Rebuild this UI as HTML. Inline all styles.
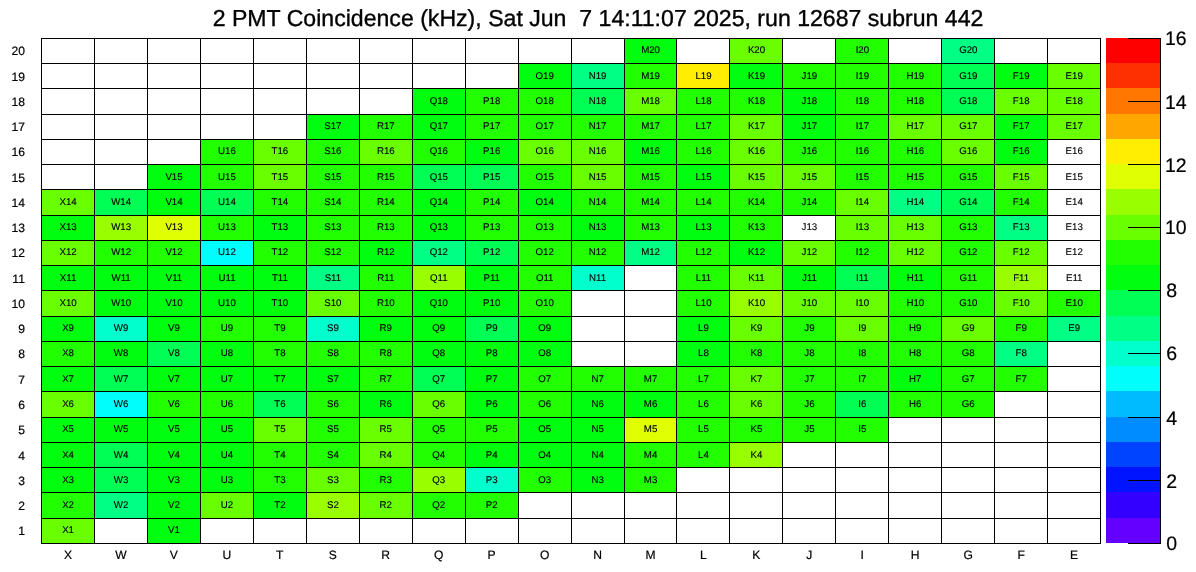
<!DOCTYPE html>
<html><head><meta charset="utf-8"><title>2 PMT Coincidence</title>
<style>html,body{margin:0;padding:0;background:#fff;overflow:hidden}svg{display:block;will-change:transform}text{font-family:"Liberation Sans",Arial,Helvetica,sans-serif;fill:#000;text-rendering:geometricPrecision}.t{font-size:23.1px;text-anchor:middle;white-space:pre;stroke:#000;stroke-width:0.35px}.c{font-size:9.7px;text-anchor:middle;stroke:#000;stroke-width:0.13px}.a{font-size:12.1px;text-anchor:middle;stroke:#000;stroke-width:0.2px}.z{font-size:19.5px;text-anchor:start;stroke:#000;stroke-width:0.2px}</style></head><body>
<svg width="1196" height="572" viewBox="0 0 1196 572">
<rect x="0" y="0" width="1196" height="572" fill="#fff"/>
<text class="t" xml:space="preserve" x="598" y="26">2 PMT Coincidence (kHz), Sat Jun  7 14:11:07 2025, run 12687 subrun 442</text>
<g shape-rendering="crispEdges">
<rect x="624" y="38" width="52" height="25" fill="#00ff0e"/>
<rect x="729" y="38" width="53" height="25" fill="#69ff00"/>
<rect x="835" y="38" width="53" height="25" fill="#22ff00"/>
<rect x="941" y="38" width="53" height="25" fill="#00ff85"/>
<rect x="518" y="63" width="53" height="25" fill="#00ff0e"/>
<rect x="571" y="63" width="53" height="25" fill="#00ff85"/>
<rect x="624" y="63" width="52" height="25" fill="#22ff00"/>
<rect x="676" y="63" width="53" height="25" fill="#ffee00"/>
<rect x="729" y="63" width="53" height="25" fill="#00ff0e"/>
<rect x="782" y="63" width="53" height="25" fill="#22ff00"/>
<rect x="835" y="63" width="53" height="25" fill="#22ff00"/>
<rect x="888" y="63" width="53" height="25" fill="#22ff00"/>
<rect x="941" y="63" width="53" height="25" fill="#00ff55"/>
<rect x="994" y="63" width="53" height="25" fill="#00ff0e"/>
<rect x="1047" y="63" width="53" height="25" fill="#69ff00"/>
<rect x="412" y="88" width="53" height="26" fill="#00ff0e"/>
<rect x="465" y="88" width="53" height="26" fill="#22ff00"/>
<rect x="518" y="88" width="53" height="26" fill="#22ff00"/>
<rect x="571" y="88" width="53" height="26" fill="#00ff55"/>
<rect x="624" y="88" width="52" height="26" fill="#69ff00"/>
<rect x="676" y="88" width="53" height="26" fill="#22ff00"/>
<rect x="729" y="88" width="53" height="26" fill="#22ff00"/>
<rect x="782" y="88" width="53" height="26" fill="#00ff0e"/>
<rect x="835" y="88" width="53" height="26" fill="#22ff00"/>
<rect x="888" y="88" width="53" height="26" fill="#22ff00"/>
<rect x="941" y="88" width="53" height="26" fill="#00ff55"/>
<rect x="994" y="88" width="53" height="26" fill="#69ff00"/>
<rect x="1047" y="88" width="53" height="26" fill="#69ff00"/>
<rect x="306" y="114" width="53" height="25" fill="#00ff0e"/>
<rect x="359" y="114" width="53" height="25" fill="#22ff00"/>
<rect x="412" y="114" width="53" height="25" fill="#00ff0e"/>
<rect x="465" y="114" width="53" height="25" fill="#22ff00"/>
<rect x="518" y="114" width="53" height="25" fill="#22ff00"/>
<rect x="571" y="114" width="53" height="25" fill="#22ff00"/>
<rect x="624" y="114" width="52" height="25" fill="#22ff00"/>
<rect x="676" y="114" width="53" height="25" fill="#22ff00"/>
<rect x="729" y="114" width="53" height="25" fill="#69ff00"/>
<rect x="782" y="114" width="53" height="25" fill="#00ff0e"/>
<rect x="835" y="114" width="53" height="25" fill="#22ff00"/>
<rect x="888" y="114" width="53" height="25" fill="#69ff00"/>
<rect x="941" y="114" width="53" height="25" fill="#69ff00"/>
<rect x="994" y="114" width="53" height="25" fill="#00ff0e"/>
<rect x="1047" y="114" width="53" height="25" fill="#69ff00"/>
<rect x="200" y="139" width="53" height="25" fill="#22ff00"/>
<rect x="253" y="139" width="53" height="25" fill="#69ff00"/>
<rect x="306" y="139" width="53" height="25" fill="#22ff00"/>
<rect x="359" y="139" width="53" height="25" fill="#69ff00"/>
<rect x="412" y="139" width="53" height="25" fill="#22ff00"/>
<rect x="465" y="139" width="53" height="25" fill="#00ff0e"/>
<rect x="518" y="139" width="53" height="25" fill="#69ff00"/>
<rect x="571" y="139" width="53" height="25" fill="#69ff00"/>
<rect x="624" y="139" width="52" height="25" fill="#00ff0e"/>
<rect x="676" y="139" width="53" height="25" fill="#22ff00"/>
<rect x="729" y="139" width="53" height="25" fill="#69ff00"/>
<rect x="782" y="139" width="53" height="25" fill="#22ff00"/>
<rect x="835" y="139" width="53" height="25" fill="#22ff00"/>
<rect x="888" y="139" width="53" height="25" fill="#22ff00"/>
<rect x="941" y="139" width="53" height="25" fill="#69ff00"/>
<rect x="994" y="139" width="53" height="25" fill="#00ff0e"/>
<rect x="147" y="164" width="53" height="25" fill="#00ff0e"/>
<rect x="200" y="164" width="53" height="25" fill="#22ff00"/>
<rect x="253" y="164" width="53" height="25" fill="#69ff00"/>
<rect x="306" y="164" width="53" height="25" fill="#22ff00"/>
<rect x="359" y="164" width="53" height="25" fill="#22ff00"/>
<rect x="412" y="164" width="53" height="25" fill="#00ff55"/>
<rect x="465" y="164" width="53" height="25" fill="#00ff55"/>
<rect x="518" y="164" width="53" height="25" fill="#22ff00"/>
<rect x="571" y="164" width="53" height="25" fill="#69ff00"/>
<rect x="624" y="164" width="52" height="25" fill="#22ff00"/>
<rect x="676" y="164" width="53" height="25" fill="#00ff0e"/>
<rect x="729" y="164" width="53" height="25" fill="#69ff00"/>
<rect x="782" y="164" width="53" height="25" fill="#69ff00"/>
<rect x="835" y="164" width="53" height="25" fill="#22ff00"/>
<rect x="888" y="164" width="53" height="25" fill="#22ff00"/>
<rect x="941" y="164" width="53" height="25" fill="#22ff00"/>
<rect x="994" y="164" width="53" height="25" fill="#69ff00"/>
<rect x="41" y="189" width="53" height="26" fill="#69ff00"/>
<rect x="94" y="189" width="53" height="26" fill="#00ff55"/>
<rect x="147" y="189" width="53" height="26" fill="#00ff0e"/>
<rect x="200" y="189" width="53" height="26" fill="#00ff55"/>
<rect x="253" y="189" width="53" height="26" fill="#22ff00"/>
<rect x="306" y="189" width="53" height="26" fill="#22ff00"/>
<rect x="359" y="189" width="53" height="26" fill="#22ff00"/>
<rect x="412" y="189" width="53" height="26" fill="#00ff0e"/>
<rect x="465" y="189" width="53" height="26" fill="#22ff00"/>
<rect x="518" y="189" width="53" height="26" fill="#00ff0e"/>
<rect x="571" y="189" width="53" height="26" fill="#22ff00"/>
<rect x="624" y="189" width="52" height="26" fill="#22ff00"/>
<rect x="676" y="189" width="53" height="26" fill="#22ff00"/>
<rect x="729" y="189" width="53" height="26" fill="#22ff00"/>
<rect x="782" y="189" width="53" height="26" fill="#22ff00"/>
<rect x="835" y="189" width="53" height="26" fill="#69ff00"/>
<rect x="888" y="189" width="53" height="26" fill="#00ff85"/>
<rect x="941" y="189" width="53" height="26" fill="#00ff55"/>
<rect x="994" y="189" width="53" height="26" fill="#22ff00"/>
<rect x="41" y="215" width="53" height="25" fill="#00ff0e"/>
<rect x="94" y="215" width="53" height="25" fill="#99ff00"/>
<rect x="147" y="215" width="53" height="25" fill="#e0ff00"/>
<rect x="200" y="215" width="53" height="25" fill="#22ff00"/>
<rect x="253" y="215" width="53" height="25" fill="#00ff0e"/>
<rect x="306" y="215" width="53" height="25" fill="#22ff00"/>
<rect x="359" y="215" width="53" height="25" fill="#22ff00"/>
<rect x="412" y="215" width="53" height="25" fill="#00ff0e"/>
<rect x="465" y="215" width="53" height="25" fill="#22ff00"/>
<rect x="518" y="215" width="53" height="25" fill="#22ff00"/>
<rect x="571" y="215" width="53" height="25" fill="#00ff0e"/>
<rect x="624" y="215" width="52" height="25" fill="#22ff00"/>
<rect x="676" y="215" width="53" height="25" fill="#00ff0e"/>
<rect x="729" y="215" width="53" height="25" fill="#22ff00"/>
<rect x="835" y="215" width="53" height="25" fill="#69ff00"/>
<rect x="888" y="215" width="53" height="25" fill="#69ff00"/>
<rect x="941" y="215" width="53" height="25" fill="#22ff00"/>
<rect x="994" y="215" width="53" height="25" fill="#00ff85"/>
<rect x="41" y="240" width="53" height="25" fill="#69ff00"/>
<rect x="94" y="240" width="53" height="25" fill="#22ff00"/>
<rect x="147" y="240" width="53" height="25" fill="#22ff00"/>
<rect x="200" y="240" width="53" height="25" fill="#00fffc"/>
<rect x="253" y="240" width="53" height="25" fill="#22ff00"/>
<rect x="306" y="240" width="53" height="25" fill="#22ff00"/>
<rect x="359" y="240" width="53" height="25" fill="#00ff0e"/>
<rect x="412" y="240" width="53" height="25" fill="#00ff85"/>
<rect x="465" y="240" width="53" height="25" fill="#00ff55"/>
<rect x="518" y="240" width="53" height="25" fill="#22ff00"/>
<rect x="571" y="240" width="53" height="25" fill="#22ff00"/>
<rect x="624" y="240" width="52" height="25" fill="#00ff85"/>
<rect x="676" y="240" width="53" height="25" fill="#22ff00"/>
<rect x="729" y="240" width="53" height="25" fill="#00ff0e"/>
<rect x="782" y="240" width="53" height="25" fill="#69ff00"/>
<rect x="835" y="240" width="53" height="25" fill="#22ff00"/>
<rect x="888" y="240" width="53" height="25" fill="#69ff00"/>
<rect x="941" y="240" width="53" height="25" fill="#22ff00"/>
<rect x="994" y="240" width="53" height="25" fill="#69ff00"/>
<rect x="41" y="265" width="53" height="25" fill="#00ff0e"/>
<rect x="94" y="265" width="53" height="25" fill="#00ff0e"/>
<rect x="147" y="265" width="53" height="25" fill="#00ff0e"/>
<rect x="200" y="265" width="53" height="25" fill="#00ff0e"/>
<rect x="253" y="265" width="53" height="25" fill="#00ff0e"/>
<rect x="306" y="265" width="53" height="25" fill="#00ff85"/>
<rect x="359" y="265" width="53" height="25" fill="#22ff00"/>
<rect x="412" y="265" width="53" height="25" fill="#99ff00"/>
<rect x="465" y="265" width="53" height="25" fill="#00ff0e"/>
<rect x="518" y="265" width="53" height="25" fill="#22ff00"/>
<rect x="571" y="265" width="53" height="25" fill="#00ffcc"/>
<rect x="676" y="265" width="53" height="25" fill="#22ff00"/>
<rect x="729" y="265" width="53" height="25" fill="#69ff00"/>
<rect x="782" y="265" width="53" height="25" fill="#00ff0e"/>
<rect x="835" y="265" width="53" height="25" fill="#00ff55"/>
<rect x="888" y="265" width="53" height="25" fill="#00ff0e"/>
<rect x="941" y="265" width="53" height="25" fill="#22ff00"/>
<rect x="994" y="265" width="53" height="25" fill="#99ff00"/>
<rect x="41" y="290" width="53" height="26" fill="#69ff00"/>
<rect x="94" y="290" width="53" height="26" fill="#00ff0e"/>
<rect x="147" y="290" width="53" height="26" fill="#00ff0e"/>
<rect x="200" y="290" width="53" height="26" fill="#00ff0e"/>
<rect x="253" y="290" width="53" height="26" fill="#00ff0e"/>
<rect x="306" y="290" width="53" height="26" fill="#69ff00"/>
<rect x="359" y="290" width="53" height="26" fill="#22ff00"/>
<rect x="412" y="290" width="53" height="26" fill="#00ff0e"/>
<rect x="465" y="290" width="53" height="26" fill="#00ff0e"/>
<rect x="518" y="290" width="53" height="26" fill="#22ff00"/>
<rect x="676" y="290" width="53" height="26" fill="#22ff00"/>
<rect x="729" y="290" width="53" height="26" fill="#99ff00"/>
<rect x="782" y="290" width="53" height="26" fill="#69ff00"/>
<rect x="835" y="290" width="53" height="26" fill="#69ff00"/>
<rect x="888" y="290" width="53" height="26" fill="#22ff00"/>
<rect x="941" y="290" width="53" height="26" fill="#22ff00"/>
<rect x="994" y="290" width="53" height="26" fill="#69ff00"/>
<rect x="1047" y="290" width="53" height="26" fill="#22ff00"/>
<rect x="41" y="316" width="53" height="25" fill="#00ff0e"/>
<rect x="94" y="316" width="53" height="25" fill="#00ffcc"/>
<rect x="147" y="316" width="53" height="25" fill="#00ff0e"/>
<rect x="200" y="316" width="53" height="25" fill="#22ff00"/>
<rect x="253" y="316" width="53" height="25" fill="#22ff00"/>
<rect x="306" y="316" width="53" height="25" fill="#00ffcc"/>
<rect x="359" y="316" width="53" height="25" fill="#00ff0e"/>
<rect x="412" y="316" width="53" height="25" fill="#00ff0e"/>
<rect x="465" y="316" width="53" height="25" fill="#00ff55"/>
<rect x="518" y="316" width="53" height="25" fill="#00ff0e"/>
<rect x="676" y="316" width="53" height="25" fill="#00ff0e"/>
<rect x="729" y="316" width="53" height="25" fill="#69ff00"/>
<rect x="782" y="316" width="53" height="25" fill="#22ff00"/>
<rect x="835" y="316" width="53" height="25" fill="#69ff00"/>
<rect x="888" y="316" width="53" height="25" fill="#22ff00"/>
<rect x="941" y="316" width="53" height="25" fill="#69ff00"/>
<rect x="994" y="316" width="53" height="25" fill="#22ff00"/>
<rect x="1047" y="316" width="53" height="25" fill="#00ff85"/>
<rect x="41" y="341" width="53" height="25" fill="#22ff00"/>
<rect x="94" y="341" width="53" height="25" fill="#00ff0e"/>
<rect x="147" y="341" width="53" height="25" fill="#00ff55"/>
<rect x="200" y="341" width="53" height="25" fill="#00ff0e"/>
<rect x="253" y="341" width="53" height="25" fill="#22ff00"/>
<rect x="306" y="341" width="53" height="25" fill="#22ff00"/>
<rect x="359" y="341" width="53" height="25" fill="#22ff00"/>
<rect x="412" y="341" width="53" height="25" fill="#00ff0e"/>
<rect x="465" y="341" width="53" height="25" fill="#00ff0e"/>
<rect x="518" y="341" width="53" height="25" fill="#00ff0e"/>
<rect x="676" y="341" width="53" height="25" fill="#00ff0e"/>
<rect x="729" y="341" width="53" height="25" fill="#22ff00"/>
<rect x="782" y="341" width="53" height="25" fill="#22ff00"/>
<rect x="835" y="341" width="53" height="25" fill="#22ff00"/>
<rect x="888" y="341" width="53" height="25" fill="#22ff00"/>
<rect x="941" y="341" width="53" height="25" fill="#22ff00"/>
<rect x="994" y="341" width="53" height="25" fill="#00ff85"/>
<rect x="41" y="366" width="53" height="25" fill="#00ff0e"/>
<rect x="94" y="366" width="53" height="25" fill="#00ff55"/>
<rect x="147" y="366" width="53" height="25" fill="#00ff0e"/>
<rect x="200" y="366" width="53" height="25" fill="#00ff0e"/>
<rect x="253" y="366" width="53" height="25" fill="#00ff0e"/>
<rect x="306" y="366" width="53" height="25" fill="#00ff0e"/>
<rect x="359" y="366" width="53" height="25" fill="#22ff00"/>
<rect x="412" y="366" width="53" height="25" fill="#00ff55"/>
<rect x="465" y="366" width="53" height="25" fill="#00ff0e"/>
<rect x="518" y="366" width="53" height="25" fill="#22ff00"/>
<rect x="571" y="366" width="53" height="25" fill="#22ff00"/>
<rect x="624" y="366" width="52" height="25" fill="#22ff00"/>
<rect x="676" y="366" width="53" height="25" fill="#22ff00"/>
<rect x="729" y="366" width="53" height="25" fill="#69ff00"/>
<rect x="782" y="366" width="53" height="25" fill="#22ff00"/>
<rect x="835" y="366" width="53" height="25" fill="#22ff00"/>
<rect x="888" y="366" width="53" height="25" fill="#00ff0e"/>
<rect x="941" y="366" width="53" height="25" fill="#22ff00"/>
<rect x="994" y="366" width="53" height="25" fill="#22ff00"/>
<rect x="41" y="391" width="53" height="26" fill="#69ff00"/>
<rect x="94" y="391" width="53" height="26" fill="#00fffc"/>
<rect x="147" y="391" width="53" height="26" fill="#22ff00"/>
<rect x="200" y="391" width="53" height="26" fill="#22ff00"/>
<rect x="253" y="391" width="53" height="26" fill="#00ff55"/>
<rect x="306" y="391" width="53" height="26" fill="#22ff00"/>
<rect x="359" y="391" width="53" height="26" fill="#00ff0e"/>
<rect x="412" y="391" width="53" height="26" fill="#69ff00"/>
<rect x="465" y="391" width="53" height="26" fill="#00ff0e"/>
<rect x="518" y="391" width="53" height="26" fill="#22ff00"/>
<rect x="571" y="391" width="53" height="26" fill="#00ff0e"/>
<rect x="624" y="391" width="52" height="26" fill="#00ff0e"/>
<rect x="676" y="391" width="53" height="26" fill="#22ff00"/>
<rect x="729" y="391" width="53" height="26" fill="#69ff00"/>
<rect x="782" y="391" width="53" height="26" fill="#22ff00"/>
<rect x="835" y="391" width="53" height="26" fill="#00ff55"/>
<rect x="888" y="391" width="53" height="26" fill="#22ff00"/>
<rect x="941" y="391" width="53" height="26" fill="#22ff00"/>
<rect x="41" y="417" width="53" height="25" fill="#00ff0e"/>
<rect x="94" y="417" width="53" height="25" fill="#00ff0e"/>
<rect x="147" y="417" width="53" height="25" fill="#00ff0e"/>
<rect x="200" y="417" width="53" height="25" fill="#00ff0e"/>
<rect x="253" y="417" width="53" height="25" fill="#69ff00"/>
<rect x="306" y="417" width="53" height="25" fill="#22ff00"/>
<rect x="359" y="417" width="53" height="25" fill="#69ff00"/>
<rect x="412" y="417" width="53" height="25" fill="#22ff00"/>
<rect x="465" y="417" width="53" height="25" fill="#22ff00"/>
<rect x="518" y="417" width="53" height="25" fill="#00ff0e"/>
<rect x="571" y="417" width="53" height="25" fill="#00ff0e"/>
<rect x="624" y="417" width="52" height="25" fill="#e0ff00"/>
<rect x="676" y="417" width="53" height="25" fill="#22ff00"/>
<rect x="729" y="417" width="53" height="25" fill="#22ff00"/>
<rect x="782" y="417" width="53" height="25" fill="#22ff00"/>
<rect x="835" y="417" width="53" height="25" fill="#22ff00"/>
<rect x="41" y="442" width="53" height="25" fill="#00ff0e"/>
<rect x="94" y="442" width="53" height="25" fill="#00ff55"/>
<rect x="147" y="442" width="53" height="25" fill="#00ff0e"/>
<rect x="200" y="442" width="53" height="25" fill="#00ff0e"/>
<rect x="253" y="442" width="53" height="25" fill="#22ff00"/>
<rect x="306" y="442" width="53" height="25" fill="#22ff00"/>
<rect x="359" y="442" width="53" height="25" fill="#69ff00"/>
<rect x="412" y="442" width="53" height="25" fill="#22ff00"/>
<rect x="465" y="442" width="53" height="25" fill="#00ff0e"/>
<rect x="518" y="442" width="53" height="25" fill="#00ff0e"/>
<rect x="571" y="442" width="53" height="25" fill="#00ff0e"/>
<rect x="624" y="442" width="52" height="25" fill="#22ff00"/>
<rect x="676" y="442" width="53" height="25" fill="#22ff00"/>
<rect x="729" y="442" width="53" height="25" fill="#99ff00"/>
<rect x="41" y="467" width="53" height="25" fill="#00ff0e"/>
<rect x="94" y="467" width="53" height="25" fill="#00ff55"/>
<rect x="147" y="467" width="53" height="25" fill="#00ff0e"/>
<rect x="200" y="467" width="53" height="25" fill="#00ff0e"/>
<rect x="253" y="467" width="53" height="25" fill="#22ff00"/>
<rect x="306" y="467" width="53" height="25" fill="#69ff00"/>
<rect x="359" y="467" width="53" height="25" fill="#22ff00"/>
<rect x="412" y="467" width="53" height="25" fill="#99ff00"/>
<rect x="465" y="467" width="53" height="25" fill="#00ffcc"/>
<rect x="518" y="467" width="53" height="25" fill="#22ff00"/>
<rect x="571" y="467" width="53" height="25" fill="#00ff0e"/>
<rect x="624" y="467" width="52" height="25" fill="#22ff00"/>
<rect x="41" y="492" width="53" height="26" fill="#22ff00"/>
<rect x="94" y="492" width="53" height="26" fill="#00ff85"/>
<rect x="147" y="492" width="53" height="26" fill="#00ff0e"/>
<rect x="200" y="492" width="53" height="26" fill="#69ff00"/>
<rect x="253" y="492" width="53" height="26" fill="#00ff0e"/>
<rect x="306" y="492" width="53" height="26" fill="#99ff00"/>
<rect x="359" y="492" width="53" height="26" fill="#69ff00"/>
<rect x="412" y="492" width="53" height="26" fill="#22ff00"/>
<rect x="465" y="492" width="53" height="26" fill="#22ff00"/>
<rect x="41" y="518" width="53" height="25" fill="#69ff00"/>
<rect x="147" y="518" width="53" height="25" fill="#00ff0e"/>
</g>
<g stroke="#000" stroke-width="1" shape-rendering="crispEdges" fill="none">
<line x1="41.5" y1="38" x2="41.5" y2="544"/>
<line x1="94.5" y1="38" x2="94.5" y2="544"/>
<line x1="147.5" y1="38" x2="147.5" y2="544"/>
<line x1="200.5" y1="38" x2="200.5" y2="544"/>
<line x1="253.5" y1="38" x2="253.5" y2="544"/>
<line x1="306.5" y1="38" x2="306.5" y2="544"/>
<line x1="359.5" y1="38" x2="359.5" y2="544"/>
<line x1="412.5" y1="38" x2="412.5" y2="544"/>
<line x1="465.5" y1="38" x2="465.5" y2="544"/>
<line x1="518.5" y1="38" x2="518.5" y2="544"/>
<line x1="571.5" y1="38" x2="571.5" y2="544"/>
<line x1="624.5" y1="38" x2="624.5" y2="544"/>
<line x1="676.5" y1="38" x2="676.5" y2="544"/>
<line x1="729.5" y1="38" x2="729.5" y2="544"/>
<line x1="782.5" y1="38" x2="782.5" y2="544"/>
<line x1="835.5" y1="38" x2="835.5" y2="544"/>
<line x1="888.5" y1="38" x2="888.5" y2="544"/>
<line x1="941.5" y1="38" x2="941.5" y2="544"/>
<line x1="994.5" y1="38" x2="994.5" y2="544"/>
<line x1="1047.5" y1="38" x2="1047.5" y2="544"/>
<line x1="1100.5" y1="38" x2="1100.5" y2="544"/>
<line x1="41" y1="38.5" x2="1101" y2="38.5"/>
<line x1="41" y1="63.5" x2="1101" y2="63.5"/>
<line x1="41" y1="88.5" x2="1101" y2="88.5"/>
<line x1="41" y1="114.5" x2="1101" y2="114.5"/>
<line x1="41" y1="139.5" x2="1101" y2="139.5"/>
<line x1="41" y1="164.5" x2="1101" y2="164.5"/>
<line x1="41" y1="189.5" x2="1101" y2="189.5"/>
<line x1="41" y1="215.5" x2="1101" y2="215.5"/>
<line x1="41" y1="240.5" x2="1101" y2="240.5"/>
<line x1="41" y1="265.5" x2="1101" y2="265.5"/>
<line x1="41" y1="290.5" x2="1101" y2="290.5"/>
<line x1="41" y1="316.5" x2="1101" y2="316.5"/>
<line x1="41" y1="341.5" x2="1101" y2="341.5"/>
<line x1="41" y1="366.5" x2="1101" y2="366.5"/>
<line x1="41" y1="391.5" x2="1101" y2="391.5"/>
<line x1="41" y1="417.5" x2="1101" y2="417.5"/>
<line x1="41" y1="442.5" x2="1101" y2="442.5"/>
<line x1="41" y1="467.5" x2="1101" y2="467.5"/>
<line x1="41" y1="492.5" x2="1101" y2="492.5"/>
<line x1="41" y1="518.5" x2="1101" y2="518.5"/>
<line x1="41" y1="543.5" x2="1101" y2="543.5"/>
</g>
<g class="c">
<text x="650.6" y="53">M20</text>
<text x="756.5" y="53">K20</text>
<text x="862.4" y="53">I20</text>
<text x="968.3" y="53">G20</text>
<text x="544.7" y="79">O19</text>
<text x="597.6" y="79">N19</text>
<text x="650.6" y="79">M19</text>
<text x="703.5" y="79">L19</text>
<text x="756.5" y="79">K19</text>
<text x="809.4" y="79">J19</text>
<text x="862.4" y="79">I19</text>
<text x="915.3" y="79">H19</text>
<text x="968.3" y="79">G19</text>
<text x="1021.2" y="79">F19</text>
<text x="1074.2" y="79">E19</text>
<text x="438.8" y="104">Q18</text>
<text x="491.7" y="104">P18</text>
<text x="544.7" y="104">O18</text>
<text x="597.6" y="104">N18</text>
<text x="650.6" y="104">M18</text>
<text x="703.5" y="104">L18</text>
<text x="756.5" y="104">K18</text>
<text x="809.4" y="104">J18</text>
<text x="862.4" y="104">I18</text>
<text x="915.3" y="104">H18</text>
<text x="968.3" y="104">G18</text>
<text x="1021.2" y="104">F18</text>
<text x="1074.2" y="104">E18</text>
<text x="332.9" y="129">S17</text>
<text x="385.8" y="129">R17</text>
<text x="438.8" y="129">Q17</text>
<text x="491.7" y="129">P17</text>
<text x="544.7" y="129">O17</text>
<text x="597.6" y="129">N17</text>
<text x="650.6" y="129">M17</text>
<text x="703.5" y="129">L17</text>
<text x="756.5" y="129">K17</text>
<text x="809.4" y="129">J17</text>
<text x="862.4" y="129">I17</text>
<text x="915.3" y="129">H17</text>
<text x="968.3" y="129">G17</text>
<text x="1021.2" y="129">F17</text>
<text x="1074.2" y="129">E17</text>
<text x="227.0" y="154">U16</text>
<text x="279.9" y="154">T16</text>
<text x="332.9" y="154">S16</text>
<text x="385.8" y="154">R16</text>
<text x="438.8" y="154">Q16</text>
<text x="491.7" y="154">P16</text>
<text x="544.7" y="154">O16</text>
<text x="597.6" y="154">N16</text>
<text x="650.6" y="154">M16</text>
<text x="703.5" y="154">L16</text>
<text x="756.5" y="154">K16</text>
<text x="809.4" y="154">J16</text>
<text x="862.4" y="154">I16</text>
<text x="915.3" y="154">H16</text>
<text x="968.3" y="154">G16</text>
<text x="1021.2" y="154">F16</text>
<text x="1074.2" y="154">E16</text>
<text x="174.0" y="180">V15</text>
<text x="227.0" y="180">U15</text>
<text x="279.9" y="180">T15</text>
<text x="332.9" y="180">S15</text>
<text x="385.8" y="180">R15</text>
<text x="438.8" y="180">Q15</text>
<text x="491.7" y="180">P15</text>
<text x="544.7" y="180">O15</text>
<text x="597.6" y="180">N15</text>
<text x="650.6" y="180">M15</text>
<text x="703.5" y="180">L15</text>
<text x="756.5" y="180">K15</text>
<text x="809.4" y="180">J15</text>
<text x="862.4" y="180">I15</text>
<text x="915.3" y="180">H15</text>
<text x="968.3" y="180">G15</text>
<text x="1021.2" y="180">F15</text>
<text x="1074.2" y="180">E15</text>
<text x="68.1" y="205">X14</text>
<text x="121.1" y="205">W14</text>
<text x="174.0" y="205">V14</text>
<text x="227.0" y="205">U14</text>
<text x="279.9" y="205">T14</text>
<text x="332.9" y="205">S14</text>
<text x="385.8" y="205">R14</text>
<text x="438.8" y="205">Q14</text>
<text x="491.7" y="205">P14</text>
<text x="544.7" y="205">O14</text>
<text x="597.6" y="205">N14</text>
<text x="650.6" y="205">M14</text>
<text x="703.5" y="205">L14</text>
<text x="756.5" y="205">K14</text>
<text x="809.4" y="205">J14</text>
<text x="862.4" y="205">I14</text>
<text x="915.3" y="205">H14</text>
<text x="968.3" y="205">G14</text>
<text x="1021.2" y="205">F14</text>
<text x="1074.2" y="205">E14</text>
<text x="68.1" y="230">X13</text>
<text x="121.1" y="230">W13</text>
<text x="174.0" y="230">V13</text>
<text x="227.0" y="230">U13</text>
<text x="279.9" y="230">T13</text>
<text x="332.9" y="230">S13</text>
<text x="385.8" y="230">R13</text>
<text x="438.8" y="230">Q13</text>
<text x="491.7" y="230">P13</text>
<text x="544.7" y="230">O13</text>
<text x="597.6" y="230">N13</text>
<text x="650.6" y="230">M13</text>
<text x="703.5" y="230">L13</text>
<text x="756.5" y="230">K13</text>
<text x="809.4" y="230">J13</text>
<text x="862.4" y="230">I13</text>
<text x="915.3" y="230">H13</text>
<text x="968.3" y="230">G13</text>
<text x="1021.2" y="230">F13</text>
<text x="1074.2" y="230">E13</text>
<text x="68.1" y="255">X12</text>
<text x="121.1" y="255">W12</text>
<text x="174.0" y="255">V12</text>
<text x="227.0" y="255">U12</text>
<text x="279.9" y="255">T12</text>
<text x="332.9" y="255">S12</text>
<text x="385.8" y="255">R12</text>
<text x="438.8" y="255">Q12</text>
<text x="491.7" y="255">P12</text>
<text x="544.7" y="255">O12</text>
<text x="597.6" y="255">N12</text>
<text x="650.6" y="255">M12</text>
<text x="703.5" y="255">L12</text>
<text x="756.5" y="255">K12</text>
<text x="809.4" y="255">J12</text>
<text x="862.4" y="255">I12</text>
<text x="915.3" y="255">H12</text>
<text x="968.3" y="255">G12</text>
<text x="1021.2" y="255">F12</text>
<text x="1074.2" y="255">E12</text>
<text x="68.1" y="281">X11</text>
<text x="121.1" y="281">W11</text>
<text x="174.0" y="281">V11</text>
<text x="227.0" y="281">U11</text>
<text x="279.9" y="281">T11</text>
<text x="332.9" y="281">S11</text>
<text x="385.8" y="281">R11</text>
<text x="438.8" y="281">Q11</text>
<text x="491.7" y="281">P11</text>
<text x="544.7" y="281">O11</text>
<text x="597.6" y="281">N11</text>
<text x="703.5" y="281">L11</text>
<text x="756.5" y="281">K11</text>
<text x="809.4" y="281">J11</text>
<text x="862.4" y="281">I11</text>
<text x="915.3" y="281">H11</text>
<text x="968.3" y="281">G11</text>
<text x="1021.2" y="281">F11</text>
<text x="1074.2" y="281">E11</text>
<text x="68.1" y="306">X10</text>
<text x="121.1" y="306">W10</text>
<text x="174.0" y="306">V10</text>
<text x="227.0" y="306">U10</text>
<text x="279.9" y="306">T10</text>
<text x="332.9" y="306">S10</text>
<text x="385.8" y="306">R10</text>
<text x="438.8" y="306">Q10</text>
<text x="491.7" y="306">P10</text>
<text x="544.7" y="306">O10</text>
<text x="703.5" y="306">L10</text>
<text x="756.5" y="306">K10</text>
<text x="809.4" y="306">J10</text>
<text x="862.4" y="306">I10</text>
<text x="915.3" y="306">H10</text>
<text x="968.3" y="306">G10</text>
<text x="1021.2" y="306">F10</text>
<text x="1074.2" y="306">E10</text>
<text x="68.1" y="331">X9</text>
<text x="121.1" y="331">W9</text>
<text x="174.0" y="331">V9</text>
<text x="227.0" y="331">U9</text>
<text x="279.9" y="331">T9</text>
<text x="332.9" y="331">S9</text>
<text x="385.8" y="331">R9</text>
<text x="438.8" y="331">Q9</text>
<text x="491.7" y="331">P9</text>
<text x="544.7" y="331">O9</text>
<text x="703.5" y="331">L9</text>
<text x="756.5" y="331">K9</text>
<text x="809.4" y="331">J9</text>
<text x="862.4" y="331">I9</text>
<text x="915.3" y="331">H9</text>
<text x="968.3" y="331">G9</text>
<text x="1021.2" y="331">F9</text>
<text x="1074.2" y="331">E9</text>
<text x="68.1" y="356">X8</text>
<text x="121.1" y="356">W8</text>
<text x="174.0" y="356">V8</text>
<text x="227.0" y="356">U8</text>
<text x="279.9" y="356">T8</text>
<text x="332.9" y="356">S8</text>
<text x="385.8" y="356">R8</text>
<text x="438.8" y="356">Q8</text>
<text x="491.7" y="356">P8</text>
<text x="544.7" y="356">O8</text>
<text x="703.5" y="356">L8</text>
<text x="756.5" y="356">K8</text>
<text x="809.4" y="356">J8</text>
<text x="862.4" y="356">I8</text>
<text x="915.3" y="356">H8</text>
<text x="968.3" y="356">G8</text>
<text x="1021.2" y="356">F8</text>
<text x="68.1" y="382">X7</text>
<text x="121.1" y="382">W7</text>
<text x="174.0" y="382">V7</text>
<text x="227.0" y="382">U7</text>
<text x="279.9" y="382">T7</text>
<text x="332.9" y="382">S7</text>
<text x="385.8" y="382">R7</text>
<text x="438.8" y="382">Q7</text>
<text x="491.7" y="382">P7</text>
<text x="544.7" y="382">O7</text>
<text x="597.6" y="382">N7</text>
<text x="650.6" y="382">M7</text>
<text x="703.5" y="382">L7</text>
<text x="756.5" y="382">K7</text>
<text x="809.4" y="382">J7</text>
<text x="862.4" y="382">I7</text>
<text x="915.3" y="382">H7</text>
<text x="968.3" y="382">G7</text>
<text x="1021.2" y="382">F7</text>
<text x="68.1" y="407">X6</text>
<text x="121.1" y="407">W6</text>
<text x="174.0" y="407">V6</text>
<text x="227.0" y="407">U6</text>
<text x="279.9" y="407">T6</text>
<text x="332.9" y="407">S6</text>
<text x="385.8" y="407">R6</text>
<text x="438.8" y="407">Q6</text>
<text x="491.7" y="407">P6</text>
<text x="544.7" y="407">O6</text>
<text x="597.6" y="407">N6</text>
<text x="650.6" y="407">M6</text>
<text x="703.5" y="407">L6</text>
<text x="756.5" y="407">K6</text>
<text x="809.4" y="407">J6</text>
<text x="862.4" y="407">I6</text>
<text x="915.3" y="407">H6</text>
<text x="968.3" y="407">G6</text>
<text x="68.1" y="432">X5</text>
<text x="121.1" y="432">W5</text>
<text x="174.0" y="432">V5</text>
<text x="227.0" y="432">U5</text>
<text x="279.9" y="432">T5</text>
<text x="332.9" y="432">S5</text>
<text x="385.8" y="432">R5</text>
<text x="438.8" y="432">Q5</text>
<text x="491.7" y="432">P5</text>
<text x="544.7" y="432">O5</text>
<text x="597.6" y="432">N5</text>
<text x="650.6" y="432">M5</text>
<text x="703.5" y="432">L5</text>
<text x="756.5" y="432">K5</text>
<text x="809.4" y="432">J5</text>
<text x="862.4" y="432">I5</text>
<text x="68.1" y="458">X4</text>
<text x="121.1" y="458">W4</text>
<text x="174.0" y="458">V4</text>
<text x="227.0" y="458">U4</text>
<text x="279.9" y="458">T4</text>
<text x="332.9" y="458">S4</text>
<text x="385.8" y="458">R4</text>
<text x="438.8" y="458">Q4</text>
<text x="491.7" y="458">P4</text>
<text x="544.7" y="458">O4</text>
<text x="597.6" y="458">N4</text>
<text x="650.6" y="458">M4</text>
<text x="703.5" y="458">L4</text>
<text x="756.5" y="458">K4</text>
<text x="68.1" y="483">X3</text>
<text x="121.1" y="483">W3</text>
<text x="174.0" y="483">V3</text>
<text x="227.0" y="483">U3</text>
<text x="279.9" y="483">T3</text>
<text x="332.9" y="483">S3</text>
<text x="385.8" y="483">R3</text>
<text x="438.8" y="483">Q3</text>
<text x="491.7" y="483">P3</text>
<text x="544.7" y="483">O3</text>
<text x="597.6" y="483">N3</text>
<text x="650.6" y="483">M3</text>
<text x="68.1" y="508">X2</text>
<text x="121.1" y="508">W2</text>
<text x="174.0" y="508">V2</text>
<text x="227.0" y="508">U2</text>
<text x="279.9" y="508">T2</text>
<text x="332.9" y="508">S2</text>
<text x="385.8" y="508">R2</text>
<text x="438.8" y="508">Q2</text>
<text x="491.7" y="508">P2</text>
<text x="68.1" y="533">X1</text>
<text x="174.0" y="533">V1</text>
</g>
<g class="a">
<text x="24.9" y="55" text-anchor="end">20</text>
<text x="24.9" y="81" text-anchor="end">19</text>
<text x="24.9" y="106" text-anchor="end">18</text>
<text x="24.9" y="131" text-anchor="end">17</text>
<text x="24.9" y="156" text-anchor="end">16</text>
<text x="24.9" y="182" text-anchor="end">15</text>
<text x="24.9" y="207" text-anchor="end">14</text>
<text x="24.9" y="232" text-anchor="end">13</text>
<text x="24.9" y="257" text-anchor="end">12</text>
<text x="24.9" y="283" text-anchor="end">11</text>
<text x="24.9" y="308" text-anchor="end">10</text>
<text x="24.9" y="333" text-anchor="end">9</text>
<text x="24.9" y="358" text-anchor="end">8</text>
<text x="24.9" y="384" text-anchor="end">7</text>
<text x="24.9" y="409" text-anchor="end">6</text>
<text x="24.9" y="434" text-anchor="end">5</text>
<text x="24.9" y="460" text-anchor="end">4</text>
<text x="24.9" y="485" text-anchor="end">3</text>
<text x="24.9" y="510" text-anchor="end">2</text>
<text x="24.9" y="535" text-anchor="end">1</text>
<text x="68.0" y="559">X</text>
<text x="121.0" y="559">W</text>
<text x="173.9" y="559">V</text>
<text x="226.9" y="559">U</text>
<text x="279.8" y="559">T</text>
<text x="332.8" y="559">S</text>
<text x="385.7" y="559">R</text>
<text x="438.7" y="559">Q</text>
<text x="491.6" y="559">P</text>
<text x="544.6" y="559">O</text>
<text x="597.5" y="559">N</text>
<text x="650.5" y="559">M</text>
<text x="703.4" y="559">L</text>
<text x="756.4" y="559">K</text>
<text x="809.3" y="559">J</text>
<text x="862.3" y="559">I</text>
<text x="915.2" y="559">H</text>
<text x="968.2" y="559">G</text>
<text x="1021.1" y="559">F</text>
<text x="1074.1" y="559">E</text>
</g>
<g shape-rendering="crispEdges">
<rect x="1106" y="518" width="54" height="25" fill="#6300ff"/>
<rect x="1106" y="492" width="54" height="26" fill="#3300ff"/>
<rect x="1106" y="467" width="54" height="25" fill="#0014ff"/>
<rect x="1106" y="442" width="54" height="25" fill="#0044ff"/>
<rect x="1106" y="417" width="54" height="25" fill="#008bff"/>
<rect x="1106" y="391" width="54" height="26" fill="#00bbff"/>
<rect x="1106" y="366" width="54" height="25" fill="#00fffc"/>
<rect x="1106" y="341" width="54" height="25" fill="#00ffcc"/>
<rect x="1106" y="316" width="54" height="25" fill="#00ff85"/>
<rect x="1106" y="290" width="54" height="26" fill="#00ff55"/>
<rect x="1106" y="265" width="54" height="25" fill="#00ff0e"/>
<rect x="1106" y="240" width="54" height="25" fill="#22ff00"/>
<rect x="1106" y="215" width="54" height="25" fill="#69ff00"/>
<rect x="1106" y="189" width="54" height="26" fill="#99ff00"/>
<rect x="1106" y="164" width="54" height="25" fill="#e0ff00"/>
<rect x="1106" y="139" width="54" height="25" fill="#ffee00"/>
<rect x="1106" y="114" width="54" height="25" fill="#ffa700"/>
<rect x="1106" y="88" width="54" height="26" fill="#ff7700"/>
<rect x="1106" y="63" width="54" height="25" fill="#ff3000"/>
<rect x="1106" y="38" width="54" height="25" fill="#ff0000"/>
<g stroke="#000" stroke-width="1">
<line x1="1160.5" y1="38" x2="1160.5" y2="544"/>
<line x1="1128" y1="543.5" x2="1161" y2="543.5"/>
<line x1="1128" y1="480.5" x2="1161" y2="480.5"/>
<line x1="1128" y1="417.5" x2="1161" y2="417.5"/>
<line x1="1128" y1="353.5" x2="1161" y2="353.5"/>
<line x1="1128" y1="290.5" x2="1161" y2="290.5"/>
<line x1="1128" y1="227.5" x2="1161" y2="227.5"/>
<line x1="1128" y1="164.5" x2="1161" y2="164.5"/>
<line x1="1128" y1="101.5" x2="1161" y2="101.5"/>
<line x1="1128" y1="38.5" x2="1161" y2="38.5"/>
</g></g>
<g class="z">
<text x="1166.3" y="549.7">0</text>
<text x="1166.3" y="488.2">2</text>
<text x="1166.3" y="425.2">4</text>
<text x="1166.3" y="360.1">6</text>
<text x="1166.3" y="297.1">8</text>
<text x="1165" y="233.8">10</text>
<text x="1165" y="171.8">12</text>
<text x="1165" y="108.6">14</text>
<text x="1165" y="44.7">16</text>
</g>
</svg></body></html>
